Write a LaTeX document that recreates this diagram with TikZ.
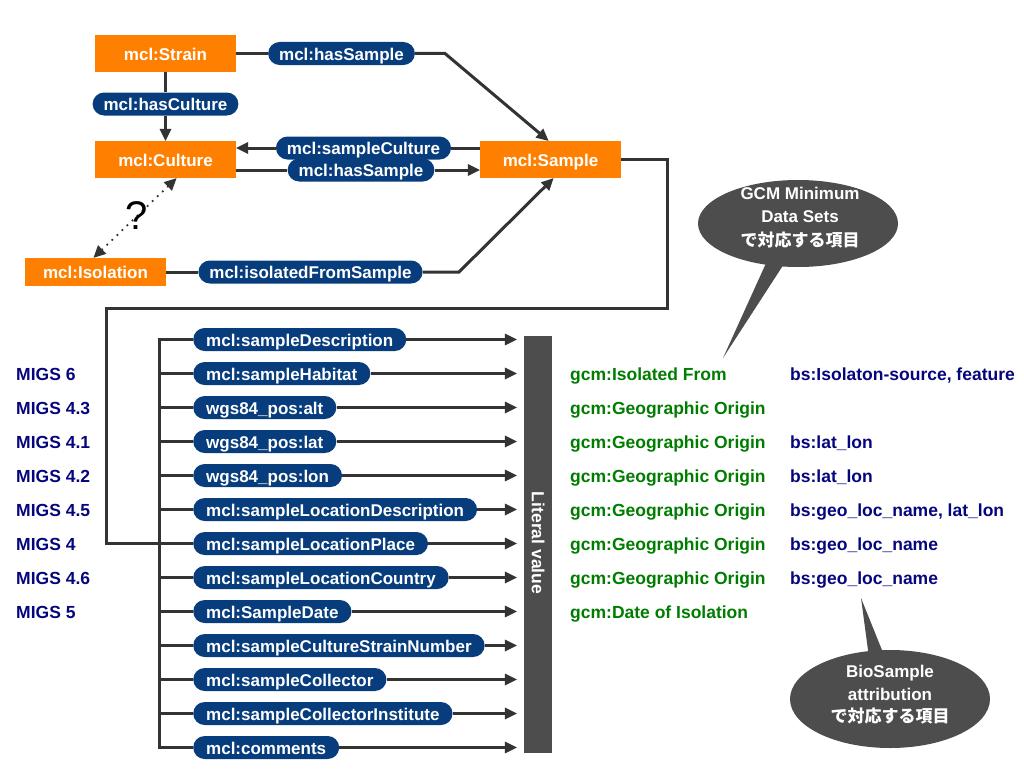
\documentclass[tikz,border=0pt]{standalone}
\usepackage{fontspec}
\setmainfont{Liberation Sans}
\newfontfamily\jp{Noto Sans CJK JP}
\usetikzlibrary{arrows.meta,shapes.geometric,calc}
\definecolor{orng}{RGB}{255,128,0}
\definecolor{pillblue}{RGB}{8,61,125}
\definecolor{linegray}{RGB}{51,51,51}
\definecolor{bargray}{RGB}{77,77,77}
\definecolor{navy}{RGB}{5,5,125}
\definecolor{gcmgreen}{RGB}{0,125,0}
\tikzset{
  cls/.style={fill=orng, text=white, font=\fontsize{17}{20}\selectfont\bfseries,
    minimum width=141pt, minimum height=37pt, inner sep=0pt, text height=13pt, text depth=0pt},
  pill/.style={fill=pillblue, text=white, rounded corners=11.5pt,
    font=\fontsize{17}{20}\selectfont\bfseries, minimum height=23pt,
    inner xsep=11pt, inner ysep=0pt, text height=13pt, text depth=0pt},
  rowpill/.style={pill, inner xsep=13pt, anchor=west},
  conn/.style={draw=linegray, line width=3pt},
  arr/.style={conn, -{Triangle[length=12pt,width=12pt,line width=0pt]}},
  dots/.style={draw=linegray, line width=2.5pt, line cap=round, dash pattern=on 0pt off 7pt,
    {Triangle[length=12pt,width=12pt,line width=0pt]}-{Triangle[length=12pt,width=12pt,line width=0pt]}},
  lbl/.style={font=\fontsize{17.5}{20}\selectfont\bfseries, anchor=base west, inner sep=0pt},
  migs/.style={lbl, text=navy},
  gcm/.style={lbl, text=gcmgreen},
  bs/.style={lbl, text=navy},
  bubble/.style={ellipse, fill=bargray, inner sep=0pt},
  bubbletext/.style={text=white, align=center, inner sep=0pt},
  bar/.style={fill=bargray, minimum width=28pt, minimum height=417pt, inner sep=0pt},
  bartext/.style={rotate=-90, text=white, font=\fontsize{17.5}{20}\selectfont\bfseries, inner sep=0pt}
}
\begin{document}
\begin{tikzpicture}[x=1pt,y=-1pt]
\useasboundingbox (0,0) rectangle (1024,768);

% class boxes
\node[cls] (Strain) at (165.5,53.5) {mcl:Strain};
\node[cls] (Culture) at (165.5,159.5) {mcl:Culture};
\node[cls] (Sample) at (550.5,159.5) {mcl:Sample};
\node[cls, minimum height=28pt] (Isolation) at (95.5,272) {mcl:Isolation};

% top property pills
\node[pill] (hs1) at (341.5,53.5) {mcl:hasSample};
\node[pill] (hc) at (165.5,104) {mcl:hasCulture};
\node[pill] (sc) at (363.5,148) {mcl:sampleCulture};
\node[pill] (hs2) at (361,170) {mcl:hasSample};
\node[pill] (ifs) at (310.5,272) {mcl:isolatedFromSample};

\coordinate (bend1) at (445,53.5);
\coordinate (bend2) at (459,272);

% top connectors
\draw[conn] (Strain.east) -- (hs1.west);
\draw[arr] (hs1.east) -- (bend1) -- ($(Sample.north)+(-2,0)$);
\draw[conn] (Strain.south) -- (hc.north);
\draw[arr] (hc.south) -- (Culture.north);
\draw[conn] (Sample.west |- sc) -- (sc.east);
\draw[arr] (sc.west) -- (Culture.east |- sc);
\draw[conn] (Culture.east |- hs2) -- (hs2.west);
\draw[arr] (hs2.east) -- (Sample.west |- hs2);
\draw[conn] (Isolation.east) -- (ifs.west);
\draw[arr] (ifs.east) -- (bend2) -- ($(Sample.south)+(3,0)$);
\draw[dots] ($(Culture.south)+(11,0)$) -- ($(Isolation.north)+(-2,0)$);
\node[font=\fontsize{40}{40}\selectfont, inner sep=0pt] (q) at (137,216) {?};

% literal value bar
\node[bar] (lit) at (538,544.5) {};
\node[bartext] (littxt) at (538,543) {Literal value};

% property rows
\foreach \k/\t in {0/mcl:sampleDescription, 1/mcl:sampleHabitat, 2/wgs84\_pos:alt,
  3/wgs84\_pos:lat, 4/wgs84\_pos:lon, 5/mcl:sampleLocationDescription,
  6/mcl:sampleLocationPlace, 7/mcl:sampleLocationCountry, 8/mcl:SampleDate,
  9/mcl:sampleCultureStrainNumber, 10/mcl:sampleCollector,
  11/mcl:sampleCollectorInstitute, 12/mcl:comments} {
  \pgfmathsetmacro\yy{339.5+34*\k}
  \coordinate (b\k) at (159,\yy);
  \node[rowpill] (p\k) at (193,\yy) {\t};
  \draw[arr, shorten >=7pt] (p\k.east) -- (p\k.east -| lit.west);
}
\draw[conn] (p0.west) -- (b0) -- (b12) -- (p12.west);
\foreach \k in {1,...,11} \draw[conn] (b\k) -- (p\k.west);

% connector from Sample to the bus
\coordinate (o1) at (667,308);
\coordinate (o2) at (106,308);
\draw[conn] (Sample.east) -| (o1) -- (o2) |- (b6);

% MIGS labels
\foreach \k/\t in {1/MIGS 6, 2/MIGS 4.3, 3/MIGS 4.1, 4/MIGS 4.2, 5/MIGS 4.5,
  6/MIGS 4, 7/MIGS 4.6, 8/MIGS 5} {
  \pgfmathsetmacro\yy{339.5+34*\k+6.5}
  \node[migs] (m\k) at (16,\yy) {\t};
}
% gcm labels
\foreach \k/\t in {1/gcm:Isolated From, 2/gcm:Geographic Origin, 3/gcm:Geographic Origin,
  4/gcm:Geographic Origin, 5/gcm:Geographic Origin, 6/gcm:Geographic Origin,
  7/gcm:Geographic Origin, 8/gcm:Date of Isolation} {
  \pgfmathsetmacro\yy{339.5+34*\k+6.5}
  \node[gcm] (g\k) at (570,\yy) {\t};
}
% BioSample labels
\foreach \k/\t in {1/{bs:Isolaton-source, feature}, 3/bs:lat\_lon, 4/bs:lat\_lon,
  5/{bs:geo\_loc\_name, lat\_lon}, 6/bs:geo\_loc\_name, 7/bs:geo\_loc\_name} {
  \pgfmathsetmacro\yy{339.5+34*\k+6.5}
  \node[bs] (s\k) at (790,\yy) {\t};
}

% callout 1
\coordinate (tip1) at (723,358);
\fill[bargray] (772,250) -- (tip1) -- (793,250) -- cycle;
\node[bubble, minimum width=200pt, minimum height=87pt] (c1) at (798,223.5) {};
\node[bubbletext, font=\fontsize{17}{23.5}\selectfont\bfseries] (c1t) at (800,217.5)
  {GCM Minimum\\Data Sets\\{\jp で対応する項目}};

% callout 2
\coordinate (tip2) at (861,598);
\fill[bargray] (tip2) -- (870,665) -- (888,665) -- cycle;
\node[bubble, minimum width=200pt, minimum height=98pt] (c2) at (890,699) {};
\node[bubbletext, font=\fontsize{17}{22.5}\selectfont\bfseries] (c2t) at (890,695)
  {BioSample\\attribution\\{\jp で対応する項目}};
\end{tikzpicture}
\end{document}
